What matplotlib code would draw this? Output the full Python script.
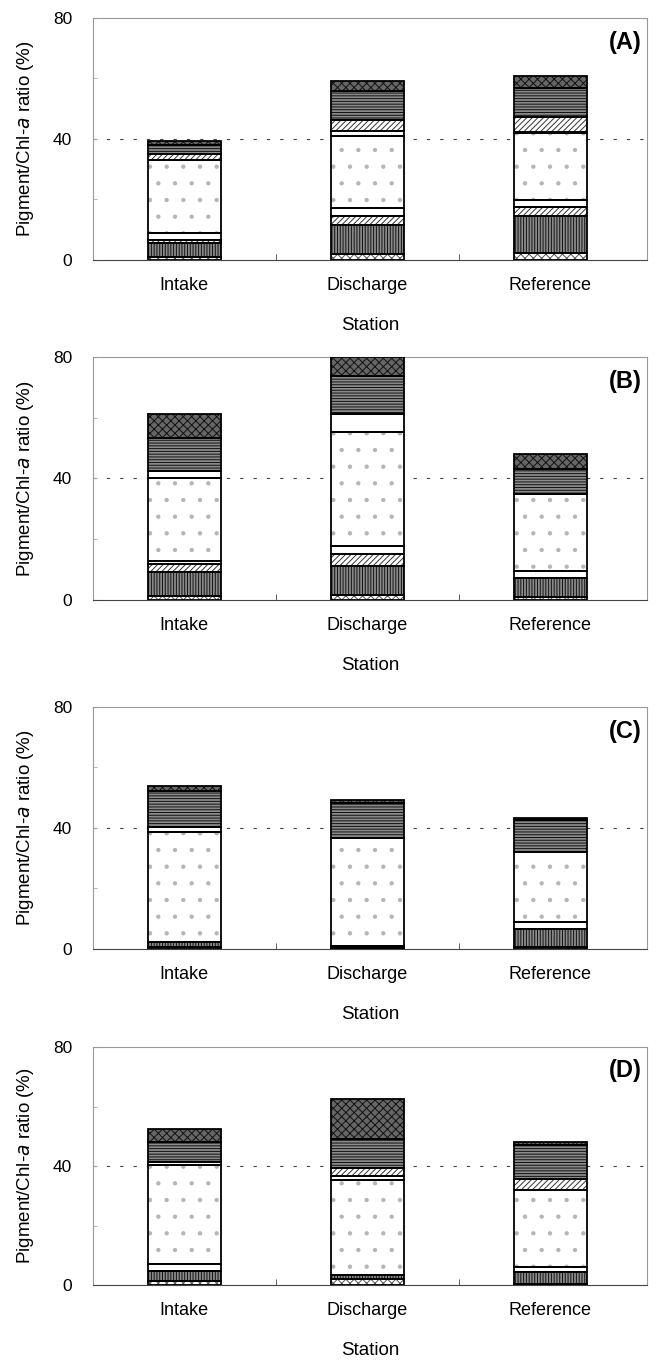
import numpy as np
import matplotlib
matplotlib.use("Agg")
import matplotlib.pyplot as plt

plt.rcParams["font.family"] = ["Liberation Sans", "DejaVu Sans"]
plt.rcParams["hatch.linewidth"] = 0.7

stations = ["Intake", "Discharge", "Reference"]
panels = ["(A)", "(B)", "(C)", "(D)"]

# pigment fractions (% of Chl-a), stacked bottom -> top, one list per station
# order: p0 .. p8 (see styles below)
panel_a = [
    [1.0, 4.5, 1.0, 2.4, 24.3, 0.0, 1.9, 3.0, 1.4],
    [1.9, 9.6, 3.0, 2.6, 24.0, 1.6, 3.6, 9.7, 3.3],
    [2.4, 12.0, 3.0, 2.4, 22.3, 0.3, 4.8, 9.8, 3.8],
]
panel_b = [
    [1.3, 8.0, 2.7, 0.9, 27.3, 2.3, 0.0, 10.9, 7.9],
    [1.6, 9.5, 4.2, 2.4, 37.6, 5.8, 0.0, 12.5, 6.4],
    [1.1, 6.0, 0.0, 2.4, 25.3, 0.0, 0.0, 8.4, 4.7],
]
panel_c = [
    [0.8, 1.4, 0.0, 0.0, 36.6, 1.4, 0.0, 12.0, 1.8],
    [0.4, 0.7, 0.0, 0.0, 35.5, 0.0, 0.0, 11.7, 0.9],
    [0.8, 5.8, 0.0, 2.2, 23.4, 0.0, 0.0, 10.3, 0.8],
]
panel_d = [
    [1.4, 3.2, 0.0, 2.4, 33.3, 1.1, 0.0, 6.8, 4.1],
    [1.9, 1.6, 0.0, 0.0, 31.9, 1.1, 3.0, 9.7, 13.2],
    [0.3, 4.0, 0.0, 1.9, 25.6, 0.0, 4.0, 11.3, 1.1],
]
all_panels = [panel_a, panel_b, panel_c, panel_d]

# (face colour, hatch, hatch colour) per pigment
styles = [
    ("white", "xxxx", "#555555"),
    ("#8a8a8a", "||||||", "#111111"),
    ("white", "//////", "#333333"),
    ("white", "", "white"),
    ("white", ".", "#b5b5b5"),
    ("white", "", "white"),
    ("white", "//////", "#333333"),
    ("#8a8a8a", "------", "#111111"),
    ("#666666", "xxxx", "#111111"),
]

fig = plt.figure(figsize=(6.59, 13.64), dpi=100)
axes_boxes = [
    [0.141, 0.8094, 0.841, 0.1774],
    [0.141, 0.5601, 0.841, 0.1782],
    [0.141, 0.3043, 0.841, 0.1774],
    [0.141, 0.0579, 0.841, 0.1745],
]

x = np.arange(len(stations))
width = 0.4

for box, label, data in zip(axes_boxes, panels, all_panels):
    ax = fig.add_axes(box)
    vals = np.array(data)
    bottom = np.zeros(len(stations))
    for k, (fc, hatch, hc) in enumerate(styles):
        h = vals[:, k]
        ax.bar(x, h, width, bottom=bottom, color=fc, hatch=hatch,
               edgecolor=hc, linewidth=0, zorder=2)
        ax.bar(x, h, width, bottom=bottom, fill=False,
               edgecolor="black", linewidth=1.3, zorder=3)
        bottom = bottom + h

    ax.axhline(40, color="#444444", lw=0.8, ls=(0, (3, 9)), zorder=1)
    ax.set_xlim(-0.5, 2.53)
    ax.set_ylim(0, 80)
    ax.set_yticks([0, 40, 80])
    ax.set_yticks([20, 60], minor=True)
    ax.set_xticks(x)
    ax.set_xticklabels(stations, fontsize=13)
    ax.set_xticks([0.5, 1.5], minor=True)
    ax.tick_params(axis="x", which="major", length=0, pad=12)
    ax.tick_params(axis="x", which="minor", direction="in", length=4, color="#444")
    ax.tick_params(axis="y", which="both", direction="in", length=3, color="#aaa",
                   labelsize=12.5, pad=15)
    for s in ax.spines.values():
        s.set_color("#999999")
        s.set_linewidth(0.8)
    ax.spines["bottom"].set_color("#444444")
    ax.set_xlabel("Station", fontsize=13.5, labelpad=17)
    ax.set_ylabel("Pigment/Chl-$\\it{a}$ ratio (%)", fontsize=13.5, labelpad=12)
    ax.text(0.99, 0.9, label, transform=ax.transAxes, ha="right", va="center",
            fontsize=17, fontweight="bold")

fig.savefig("out.png", dpi=100)
